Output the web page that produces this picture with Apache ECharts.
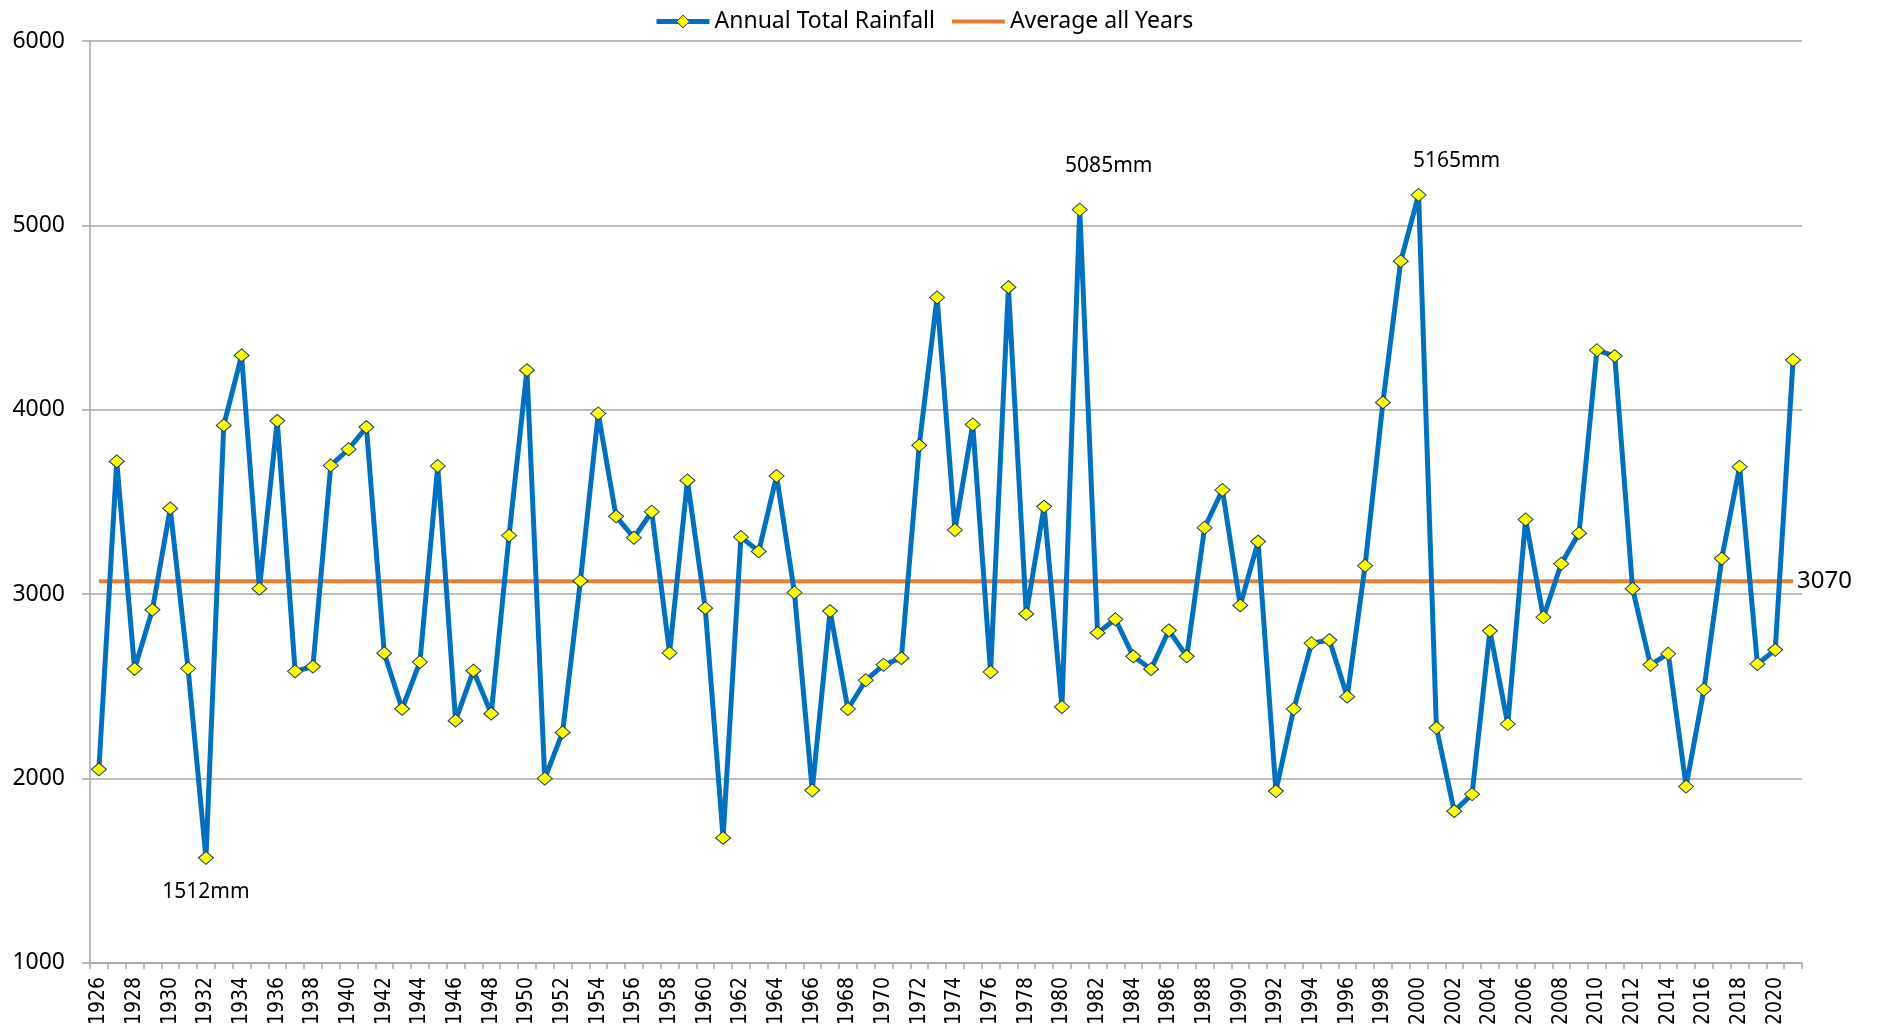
<!DOCTYPE html>
<html>
<head>
<meta charset="utf-8">
<script src="https://cdn.jsdelivr.net/npm/echarts@6/dist/echarts.min.js"></script>
<style>
html,body{margin:0;padding:0;background:#fff;}
#c{width:1880px;height:1028px;}
</style>
</head>
<body>
<div id="c"></div>
<script>
const years = [];
for (let y = 1926; y <= 2021; y++) years.push(String(y));

const rainfall = [
  2050, 3720, 2595, 2915, 3465, 2597, 1570, 3915, 4295, 3030,
  3940, 2582, 2607, 3698, 3786, 3906, 2680, 2378, 2632, 3695,
  2314, 2585, 2352, 3318, 4215, 2000, 2250, 3072, 3980, 3422,
  3306, 3447, 2681, 3617, 2924, 1678, 3310, 3232, 3641, 3009,
  1936, 2908, 2377, 2533, 2617, 2653, 3807, 4609, 3348, 3920,
  2578, 4665, 2893, 3475, 2388, 5085, 2790, 2864, 2663, 2593,
  2804, 2663, 3360, 3565, 2939, 3285, 1932, 2377, 2734, 2751,
  2444, 3154, 4040, 4806, 5165, 2275, 1823, 1915, 2801, 2296,
  3405, 2875, 3165, 3331, 4323, 4291, 3030, 2617, 2677, 1957,
  2483, 3193, 3691, 2621, 2698, 4270
];

const AVERAGE = 3070;
const annotations = { "1932": { text: "1512mm", pos: "bottom", dist: 17, dx: 0 },
                      "1981": { text: "5085mm", pos: "top", dist: 26, dx: 29 },
                      "2000": { text: "5165mm", pos: "top", dist: 16, dx: 38 } };
const yTicks = { min: 1000, max: 6000, interval: 1000 };

const txtFont = "'Noto Sans', 'Open Sans', sans-serif";
const narrowFont = "'Liberation Sans Narrow', 'DejaVu Sans Condensed', 'Roboto Condensed', sans-serif";

const rainData = rainfall.map((v, i) => {
  const a = annotations[years[i]];
  if (!a) return v;
  return { value: v, label: { show: true, position: a.pos, distance: a.dist, offset: [a.dx, 0],
    formatter: a.text, fontFamily: txtFont, fontSize: 21, color: '#000' } };
});

const chart = echarts.init(document.getElementById('c'), null, { renderer: 'canvas' });
chart.setOption({
  animation: false,
  backgroundColor: '#fff',
  grid: { left: 90, right: 78, top: 41, bottom: 59, containLabel: false },
  legend: {
    left: 649, top: 5,
    itemWidth: 53, itemHeight: 16, itemGap: 15,
    textStyle: { fontFamily: txtFont, fontSize: 23, color: '#000' },
    data: [
      { name: 'Annual Total Rainfall', lineStyle: { width: 5, color: '#0070C0' },
        itemStyle: { color: '#FFFF00', borderColor: '#1F3864', borderWidth: 1 } },
      { name: 'Average all Years', lineStyle: { width: 4, color: '#ED7D31' },
        itemStyle: { opacity: 0 } }
    ]
  },
  xAxis: {
    type: 'category',
    data: years,
    boundaryGap: true,
    axisLine: { lineStyle: { color: '#A6A6A6', width: 1.5 } },
    axisTick: { show: true, interval: 0, length: 6, lineStyle: { color: '#A6A6A6', width: 1.5 } },
    axisLabel: { interval: 1, rotate: 90, margin: 14, fontFamily: narrowFont, fontSize: 21, color: '#000' },
    splitLine: { show: false }
  },
  yAxis: {
    type: 'value',
    min: yTicks.min, max: yTicks.max, interval: yTicks.interval,
    axisLine: { show: true, lineStyle: { color: '#A6A6A6', width: 1.5 } },
    axisTick: { show: true, length: 8, lineStyle: { color: '#A6A6A6', width: 1.5 } },
    axisLabel: { margin: 25, fontFamily: txtFont, fontSize: 23, color: '#000',
      formatter: v => String(v) },
    splitLine: { show: true, lineStyle: { color: '#A6A6A6', width: 1.5 } }
  },
  series: [
    {
      name: 'Annual Total Rainfall',
      type: 'line',
      data: rainData,
      z: 3,
      symbol: 'diamond',
      symbolSize: [15, 13],
      showAllSymbol: true,
      lineStyle: { color: '#0070C0', width: 5 },
      itemStyle: { color: '#FFFF00', borderColor: '#1F3864', borderWidth: 1 },
      emphasis: { disabled: true }
    },
    {
      name: 'Average all Years',
      type: 'line',
      data: years.map(() => AVERAGE),
      z: 2,
      symbol: 'none',
      lineStyle: { color: '#ED7D31', width: 4 },
      itemStyle: { color: '#ED7D31' },
      endLabel: { show: true, formatter: String(AVERAGE), distance: 4,
        fontFamily: txtFont, fontSize: 24, color: '#000' },
      emphasis: { disabled: true }
    }
  ]
});
</script>
</body>
</html>
